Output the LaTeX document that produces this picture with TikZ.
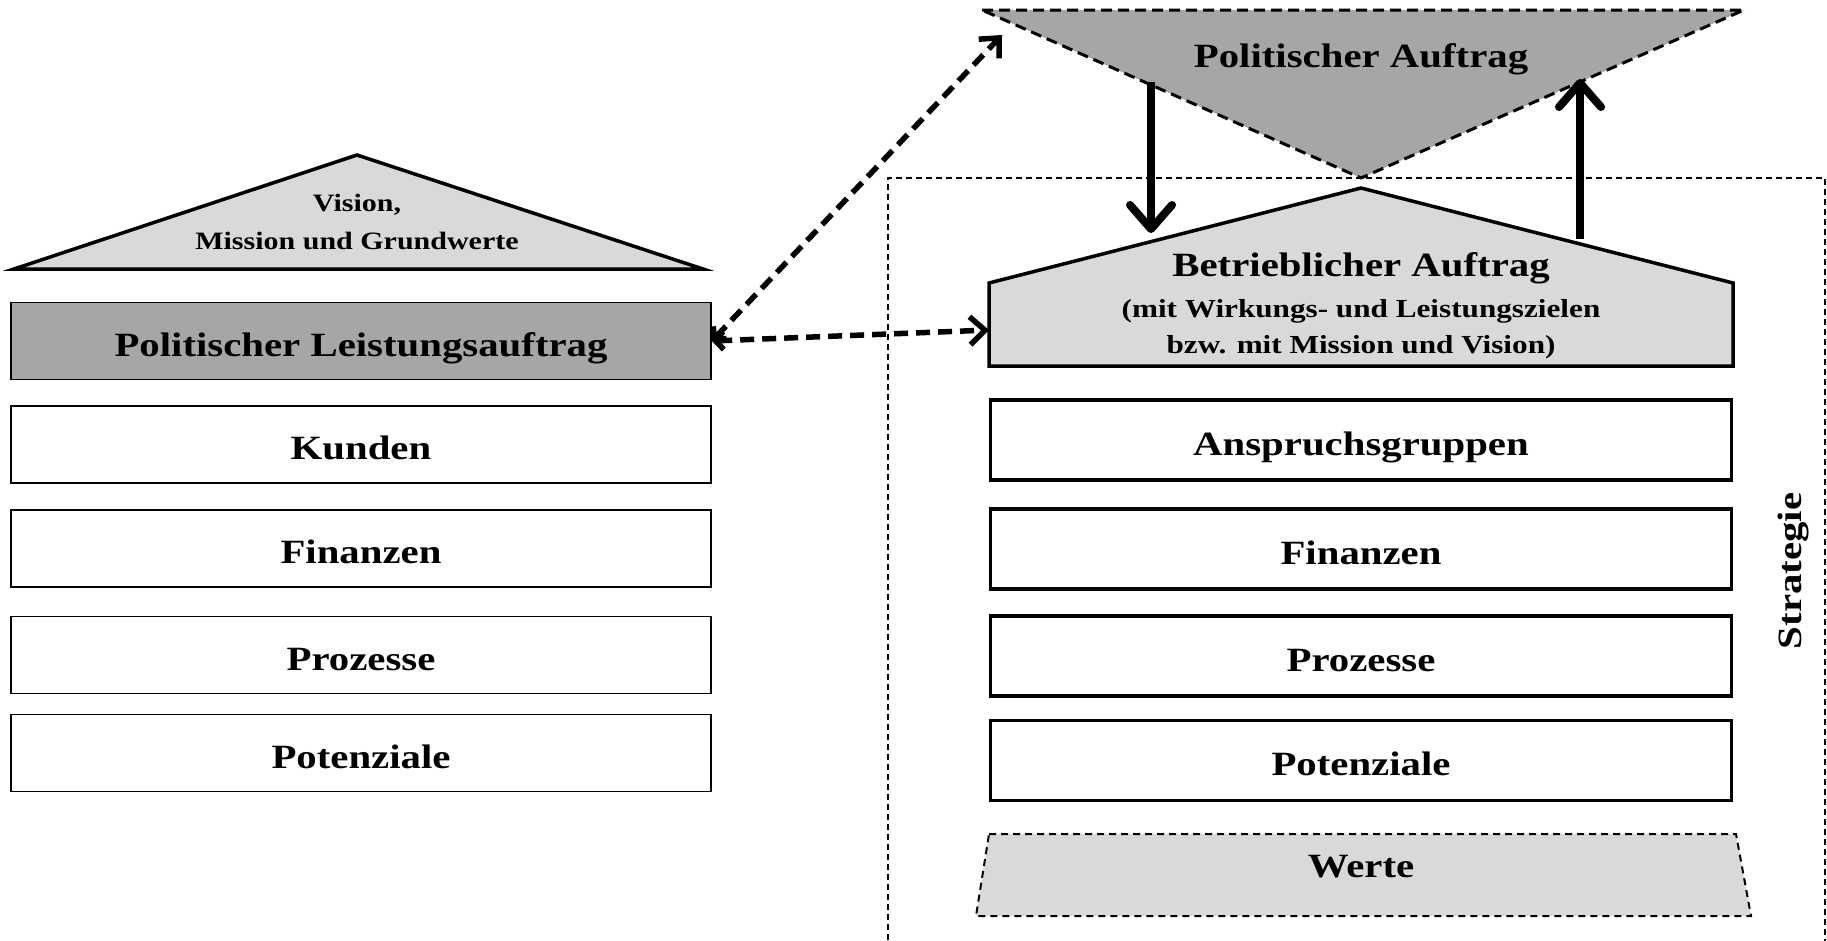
\documentclass[tikz,border=0pt]{standalone}
\usepackage{fontspec}
\setmainfont{Liberation Serif}[FakeStretch=1.2]
\usetikzlibrary{arrows.meta}
\definecolor{dgray}{HTML}{A6A6A6}
\definecolor{lgray}{HTML}{D9D9D9}
\begin{document}
\begin{tikzpicture}[x=1pt,y=-1pt,
  bigtxt/.style={font=\fontsize{34}{40}\selectfont\bfseries},
  midtxt/.style={font=\fontsize{25}{38}\selectfont\bfseries},
  smalltxt/.style={font=\fontsize{26}{36}\selectfont\bfseries},
  lbox/.style={draw, line width=1.6pt, fill=white, minimum width=700pt, minimum height=77pt,
    inner sep=0pt, text height=30pt, text depth=0pt, bigtxt},
  rbox/.style={draw, line width=3.5pt, fill=white, minimum width=741pt, minimum height=80pt,
    inner sep=0pt, text height=30pt, text depth=0pt, bigtxt},
  solidarrow/.style={line width=8pt, -{Straight Barb[length=24pt,width=42pt,round]}},
  dasharrow/.style={line width=5.5pt, dash pattern=on 14pt off 8pt,
    {Straight Barb[length=8pt,width=18pt]}-{Straight Barb[length=15pt,width=28pt]}}
]
\useasboundingbox (0,0) rectangle (1827,940);

% Strategy frame
\draw[line width=1.5pt, dash pattern=on 6pt off 4pt] (888,960) -- (888,178) -- (1825,178) -- (1825,960);
\node[bigtxt, rotate=90] (strat) at (1793,571) {Strategie};

% Left column
\draw[fill=lgray, line width=3.5pt] (14,269) -- (357,155) -- (703,269) -- cycle;
\node[midtxt, align=center] (vis) at (357,222) {Vision,\\Mission und Grundwerte};
\node[lbox, fill=dgray] (pla) at (361,341) {Politischer Leistungsauftrag};
\node[lbox] (kun) at (361,444.5) {Kunden};
\node[lbox] (fin) at (361,548.5) {Finanzen};
\node[lbox] (pro) at (361,655) {Prozesse};
\node[lbox] (pot) at (361,753) {Potenziale};

% Right column
\draw[fill=dgray, line width=3pt, dash pattern=on 11pt off 6pt] (982,10) -- (1744,10) -- (1361,178) -- cycle;
\node[bigtxt] (pa) at (1361,59) {Politischer Auftrag};
\draw[fill=lgray, line width=3.5pt] (989,366) -- (989,283) -- (1361,188) -- (1733,283) -- (1733,366) -- cycle;
\node[bigtxt] (bet1) at (1361,268) {Betrieblicher Auftrag};
\node[smalltxt] (bet2) at (1361,311) {(mit Wirkungs- und Leistungszielen};
\node[smalltxt] (bet3) at (1361,347) {bzw. mit Mission und Vision)};
\node[rbox] (ans) at (1361,440) {Anspruchsgruppen};
\node[rbox] (rfin) at (1361,549) {Finanzen};
\node[rbox] (rpro) at (1361,656) {Prozesse};
\node[rbox] (rpot) at (1361,760.5) {Potenziale};
\draw[fill=lgray, line width=2pt, dash pattern=on 7pt off 5pt] (989,834) -- (1736,834) -- (1751,916) -- (976,916) -- cycle;
\node[bigtxt] (wer) at (1361,867) {Werte};

% Arrows
\coordinate (dA) at (1151,82);
\coordinate (dB) at (1151,233);
\coordinate (uA) at (1580,239);
\coordinate (uB) at (1580,79);
\coordinate (pt) at (1002,35);
\coordinate (ht) at (989,330);
\draw[solidarrow] (dA) -- (dB);
\draw[solidarrow] (uA) -- (uB);
\draw[dasharrow] (pla.east) -- (pt);
\draw[dasharrow] (pla.east) -- (ht);
\end{tikzpicture}
\end{document}
